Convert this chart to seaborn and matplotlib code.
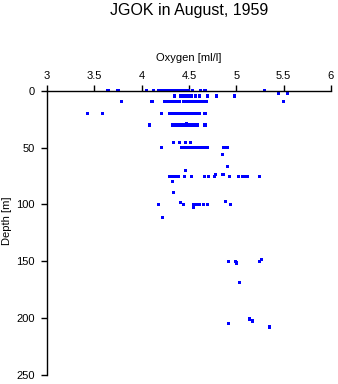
import matplotlib
matplotlib.use("Agg")
import matplotlib.pyplot as plt
import seaborn as sns
import pandas as pd

title = "JGOK in August, 1959"
x_label = "Oxygen [ml/l]"
y_label = "Depth [m]"
x_ticks = [3, 3.5, 4, 4.5, 5, 5.5, 6]
y_ticks = [0, 50, 100, 150, 200, 250]

oxy_d0 = [3.645, 3.75, 4.05, 4.13, 4.18, 4.21, 4.24, 4.27, 4.30, 4.33, 4.36, 4.39,
          4.42, 4.45, 4.47, 4.49, 4.54, 4.62, 4.67, 5.30]
oxy_d2 = [5.45, 5.54]
oxy_d5 = [4.35, 4.41, 4.43, 4.45, 4.47, 4.49, 4.51, 4.53, 4.57, 4.61, 4.70, 4.79, 4.98]
oxy_d10 = [3.79, 4.11, 4.24, 4.26, 4.28, 4.30, 4.32, 4.34, 4.36, 4.38, 4.40, 4.44,
           4.46, 4.48, 4.50, 4.52, 4.54, 4.56, 4.58, 4.60, 4.62, 4.64, 4.66, 4.69, 5.50]
oxy_d20 = [3.43, 3.59, 4.21, 4.30, 4.32, 4.34, 4.36, 4.38, 4.40, 4.42, 4.44, 4.46,
           4.48, 4.50, 4.52, 4.54, 4.56, 4.58, 4.61, 4.67]
oxy_d30 = [4.08, 4.33, 4.35, 4.37, 4.39, 4.41, 4.43, 4.45, 4.49, 4.51, 4.53, 4.55,
           4.57, 4.59, 4.67]
oxy_d29 = [4.47]
oxy_d45 = [4.34, 4.40, 4.46, 4.52]
oxy_d50 = [4.21, 4.42, 4.44, 4.46, 4.48, 4.50, 4.52, 4.54, 4.56, 4.58, 4.60, 4.62,
           4.64, 4.66, 4.70, 4.87, 4.91]
oxy_mid = [4.85, 4.91, 4.46, 4.78, 4.86, 4.33, 4.34, 4.41, 4.885, 4.55, 4.22]
dep_mid = [56, 67, 70, 73.5, 74, 80, 89.6, 98.4, 97.5, 103, 111.6]
oxy_d75 = [4.29, 4.33, 4.36, 4.39, 4.45, 4.53, 4.66, 4.71, 4.77, 4.93, 5.02, 5.07,
           5.10, 5.12, 5.25]
oxy_d100 = [4.18, 4.44, 4.55, 4.58, 4.61, 4.65, 4.70, 4.94]
oxy_deep = [4.92, 4.99, 5.00, 5.25, 5.27, 5.03, 5.14, 5.17, 4.92, 5.35]
dep_deep = [150.5, 150.5, 151.5, 150.5, 148.7, 168.4, 200.7, 202.5, 204.8, 207.8]

groups = [(oxy_d0, 0), (oxy_d2, 2.5), (oxy_d5, 4.7), (oxy_d10, 9.7), (oxy_d20, 20),
          (oxy_d30, 30.2), (oxy_d29, 29), (oxy_d45, 45.2), (oxy_d50, 50),
          (oxy_d75, 75.5), (oxy_d100, 100)]
oxy, dep = [], []
for vals, d in groups:
    oxy += vals
    dep += [d] * len(vals)
oxy += oxy_mid + oxy_deep
dep += dep_mid + dep_deep
df = pd.DataFrame({"oxygen": oxy, "depth": dep})

sns.set_style("ticks")
plt.rcParams["font.family"] = ["Liberation Sans", "DejaVu Sans"]
plt.rcParams["text.color"] = "black"
plt.rcParams["axes.labelcolor"] = "black"
plt.rcParams["xtick.color"] = "black"
plt.rcParams["ytick.color"] = "black"

fig = plt.figure(figsize=(3.38, 3.84), dpi=100)
ax = fig.add_axes([0.139, 0.0234, 0.840, 0.7404])
sns.scatterplot(data=df, x="oxygen", y="depth", ax=ax, marker="s", s=5,
                color="#0000ff", linewidth=0, edgecolor="none", clip_on=False)
ax.set_xlim(3, 6)
ax.set_ylim(250, 0)
ax.set_xticks(x_ticks)
ax.set_xticklabels([f"{t:g}" for t in x_ticks])
ax.set_yticks(y_ticks)
ax.xaxis.tick_top()
ax.xaxis.set_label_position("top")
for s in ["right", "bottom"]:
    ax.spines[s].set_visible(False)
for s in ["left", "top"]:
    ax.spines[s].set_linewidth(1.0)
    ax.spines[s].set_color("black")
ax.tick_params(axis="both", direction="out", length=4, width=1, labelsize=8,
               colors="black")
ax.tick_params(axis="x", pad=3)
ax.tick_params(axis="y", pad=5)
ax.set_xlabel(x_label, fontsize=8, color="black")
ax.set_ylabel(y_label, fontsize=8, color="black")
ax.xaxis.set_label_coords(0.5, 1.104)
ax.yaxis.set_label_coords(-0.123, 0.542)
fig.text(189 / 338, 1 - 10 / 384, title, ha="center", va="center", fontsize=11.5,
         color="black")
fig.savefig("out.png", dpi=100)
